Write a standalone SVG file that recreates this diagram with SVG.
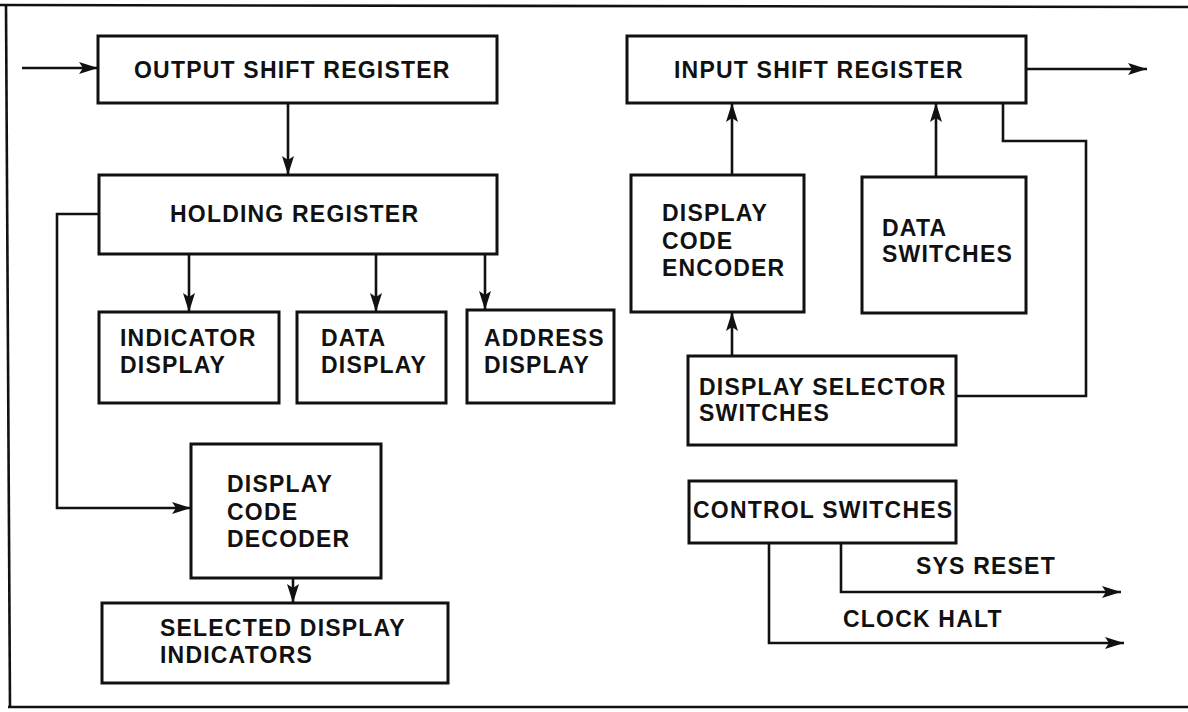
<svg xmlns="http://www.w3.org/2000/svg" width="1188" height="712" viewBox="0 0 1188 712">
<defs>
<marker id="ah" markerUnits="userSpaceOnUse" markerWidth="22" markerHeight="14" refX="19" refY="6" orient="auto">
<path d="M0,0 L19,6 L0,12 L4,6 z" fill="#111"/>
</marker>
<style>
.box{fill:#fff;stroke:#111;stroke-width:3}
.ln{fill:none;stroke:#111;stroke-width:2.6}
.t{font-family:"Liberation Sans",Arial,Helvetica,sans-serif;font-weight:bold;font-size:23px;letter-spacing:1.2px;fill:#111}
</style>
</defs>
<rect width="1188" height="712" fill="#fff"/>
<g id="frame">
<path d="M0,5 L1188,7" class="ln" stroke-width="2.6"/>
<path d="M6,5 L10,707" class="ln" stroke-width="2.6"/>
<path d="M8,707 L1188,707" class="ln" stroke-width="2.2"/>
</g>
<g id="connectors">
<path class="ln" d="M22,68 L98,68" marker-end="url(#ah)"/>
<path class="ln" d="M288,103 L288,175" marker-end="url(#ah)"/>
<path class="ln" d="M189,254 L189,312" marker-end="url(#ah)"/>
<path class="ln" d="M376,254 L376,312" marker-end="url(#ah)"/>
<path class="ln" d="M485,254 L485,310" marker-end="url(#ah)"/>
<path class="ln" d="M99,214 L57,214 L57,508 L191,508" marker-end="url(#ah)"/>
<path class="ln" d="M293,578 L293,603" marker-end="url(#ah)"/>
<path class="ln" d="M1026,69 L1147,69" marker-end="url(#ah)"/>
<path class="ln" d="M732,175 L732,103" marker-end="url(#ah)"/>
<path class="ln" d="M936,177 L936,103" marker-end="url(#ah)"/>
<path class="ln" d="M732,356 L732,312" marker-end="url(#ah)"/>
<path class="ln" d="M1003,103 L1003,141 L1086,141 L1086,396 L956,396"/>
<path class="ln" d="M841,543 L841,592 L1121,592" marker-end="url(#ah)"/>
<path class="ln" d="M769,543 L769,643 L1124,643" marker-end="url(#ah)"/>
<text class="t" x="916" y="574">SYS RESET</text>
<text class="t" x="843" y="627">CLOCK HALT</text>
</g>
<g id="output-shift-register">
<rect class="box" x="98" y="36" width="399" height="67"/>
<text class="t" x="134" y="78">OUTPUT SHIFT REGISTER</text>
</g>
<g id="holding-register">
<rect class="box" x="99" y="175" width="398" height="79"/>
<text class="t" x="170" y="222">HOLDING REGISTER</text>
</g>
<g id="indicator-display">
<rect class="box" x="99" y="312" width="180" height="91"/>
<text class="t" x="120" y="346">INDICATOR</text>
<text class="t" x="120" y="373">DISPLAY</text>
</g>
<g id="data-display">
<rect class="box" x="297" y="312" width="149" height="91"/>
<text class="t" x="321" y="346">DATA</text>
<text class="t" x="321" y="373">DISPLAY</text>
</g>
<g id="address-display">
<rect class="box" x="467" y="310" width="147" height="93"/>
<text class="t" x="484" y="346">ADDRESS</text>
<text class="t" x="484" y="373">DISPLAY</text>
</g>
<g id="display-code-decoder">
<rect class="box" x="191" y="444" width="190" height="134"/>
<text class="t" x="227" y="492">DISPLAY</text>
<text class="t" x="227" y="520">CODE</text>
<text class="t" x="227" y="547">DECODER</text>
</g>
<g id="selected-display-indicators">
<rect class="box" x="102" y="603" width="346" height="80"/>
<text class="t" x="160" y="636">SELECTED DISPLAY</text>
<text class="t" x="160" y="663">INDICATORS</text>
</g>
<g id="input-shift-register">
<rect class="box" x="627" y="36" width="399" height="67"/>
<text class="t" x="674" y="78">INPUT SHIFT REGISTER</text>
</g>
<g id="display-code-encoder">
<rect class="box" x="631" y="175" width="173" height="137"/>
<text class="t" x="662" y="221">DISPLAY</text>
<text class="t" x="662" y="249">CODE</text>
<text class="t" x="662" y="276">ENCODER</text>
</g>
<g id="data-switches">
<rect class="box" x="862" y="177" width="164" height="136"/>
<text class="t" x="882" y="236">DATA</text>
<text class="t" x="882" y="262">SWITCHES</text>
</g>
<g id="display-selector-switches">
<rect class="box" x="688" y="356" width="268" height="89"/>
<text class="t" x="699" y="395">DISPLAY SELECTOR</text>
<text class="t" x="699" y="421">SWITCHES</text>
</g>
<g id="control-switches">
<rect class="box" x="689" y="481" width="267" height="62"/>
<text class="t" x="693" y="518">CONTROL SWITCHES</text>
</g>
</svg>
